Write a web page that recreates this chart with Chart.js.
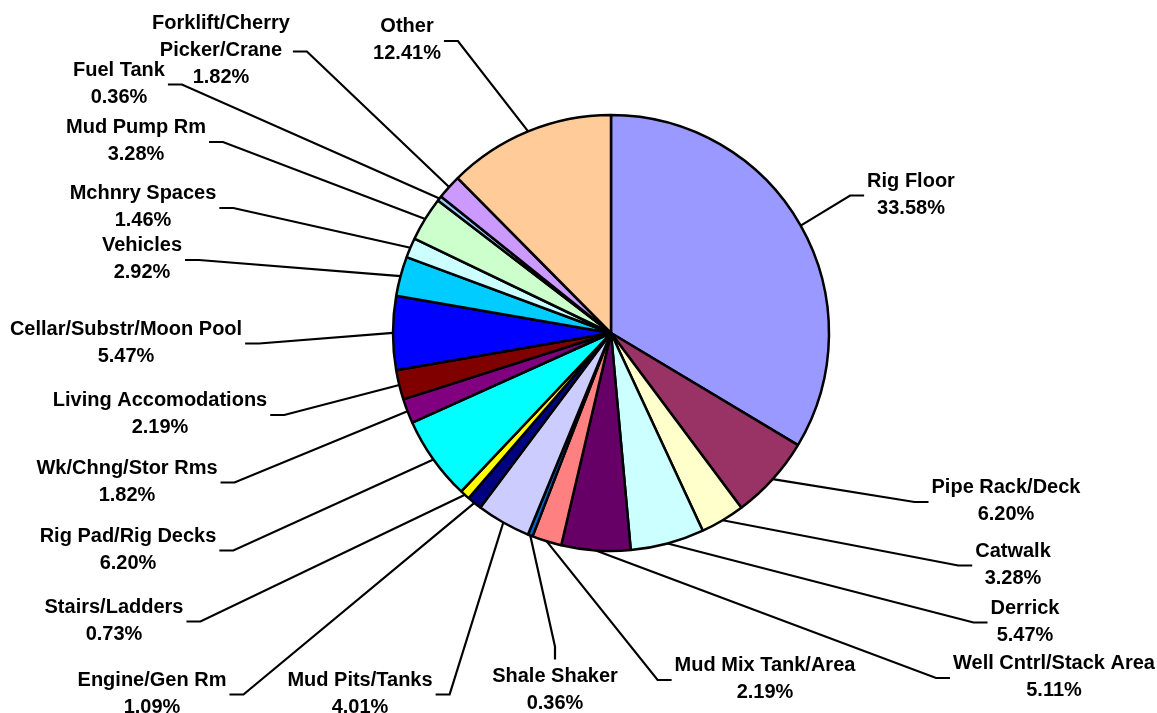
<!DOCTYPE html>
<html>
<head>
<meta charset="utf-8">
<title>Incident Location Pie</title>
<script src="https://cdn.jsdelivr.net/npm/chart.js@4/dist/chart.umd.min.js"></script>
<style>
  html, body { margin: 0; padding: 0; background: #fff; }
  #wrap { width: 1157px; height: 713px; }
</style>
</head>
<body>
<div id="wrap"><canvas id="pieChart" width="1157" height="713"></canvas></div>
<script>
/* ----------- Data ----------- */
const categories = [
  'Rig Floor', 'Pipe Rack/Deck', 'Catwalk', 'Derrick', 'Well Cntrl/Stack Area',
  'Mud Mix Tank/Area', 'Shale Shaker', 'Mud Pits/Tanks', 'Engine/Gen Rm', 'Stairs/Ladders',
  'Rig Pad/Rig Decks', 'Wk/Chng/Stor Rms', 'Living Accomodations', 'Cellar/Substr/Moon Pool', 'Vehicles',
  'Mchnry Spaces', 'Mud Pump Rm', 'Fuel Tank', 'Forklift/Cherry\nPicker/Crane', 'Other'
];
const shares = [
  33.58, 6.20, 3.28, 5.47, 5.11,
  2.19, 0.36, 4.01, 1.09, 0.73,
  6.20, 1.82, 2.19, 5.47, 2.92,
  1.46, 3.28, 0.36, 1.82, 12.41
];
const pctLabels = shares.map(v => v.toFixed(2) + '%');

/* ----------- Styles / layout ----------- */
const sliceColors = [
  '#9999FF', '#993366', '#FFFFCC', '#CCFFFF', '#660066',
  '#FF8080', '#0066CC', '#CCCCFF', '#000080', '#FFFF00',
  '#00FFFF', '#800080', '#800000', '#0000FF', '#00CCFF',
  '#CCFFFF', '#CCFFCC', '#99CCFF', '#CC99FF', '#FFCC99'
];
// label block centre (x, y) and which side the leader line joins it
const labelPos = [
  [911, 194.5, 'L'], [1006, 501, 'L'], [1013, 564.5, 'L'], [1025, 621.5, 'L'], [1054, 677, 'L'],
  [765, 679, 'L'], [555, 690, 'T'], [360, 693.5, 'R'], [152, 693.5, 'R'], [114, 620.5, 'R'],
  [128, 549.5, 'R'], [127, 481.5, 'R'], [160, 414, 'R'], [126, 342.5, 'R'], [142, 259, 'R'],
  [143, 207, 'R'], [136, 141, 'R'], [119, 83.5, 'R'], [221, 50.5, 'R'], [407, 40, 'R']
];
const LINE_H = 27;
const FONT = 'bold 20px "Liberation Sans", Arial, sans-serif';

/* ----------- Leader line labels ----------- */
const leaderLabels = {
  id: 'leaderLabels',
  afterDatasetsDraw(chart) {
    const ctx = chart.ctx;
    const arcs = chart.getDatasetMeta(0).data;
    ctx.save();
    ctx.font = FONT;
    ctx.fillStyle = '#000';
    ctx.strokeStyle = '#000';
    ctx.lineWidth = 2.2;
    ctx.textAlign = 'center';
    ctx.textBaseline = 'middle';
    arcs.forEach((arc, i) => {
      const lines = categories[i].split('\n').concat(pctLabels[i]);
      const [cx, cy, side] = labelPos[i];
      const w = Math.max(...lines.map(t => ctx.measureText(t).width));
      const top = cy - (lines.length - 1) * LINE_H / 2;
      lines.forEach((t, k) => ctx.fillText(t, cx, top + k * LINE_H));

      const mid = (arc.startAngle + arc.endAngle) / 2;
      const px = arc.x + Math.cos(mid) * arc.outerRadius;
      const py = arc.y + Math.sin(mid) * arc.outerRadius;
      let ex, ey, bx, by;
      if (side === 'L') {
        ex = cx - w / 2 - 3; ey = cy + 1; bx = ex - 14; by = ey;
      } else if (side === 'R') {
        ex = cx + w / 2 + 3; ey = cy + 1; bx = ex + 14; by = ey;
      } else {
        ex = cx; ey = top - 17; bx = cx; by = ey - 13;
      }
      ctx.beginPath();
      ctx.moveTo(px, py);
      ctx.lineTo(bx, by);
      ctx.lineTo(ex, ey);
      ctx.stroke();
    });
    ctx.restore();
  }
};

/* ----------- Chart ----------- */
new Chart(document.getElementById('pieChart').getContext('2d'), {
  type: 'pie',
  data: {
    labels: categories,
    datasets: [{
      data: shares,
      backgroundColor: sliceColors,
      borderColor: '#000',
      borderWidth: 2.5,
      radius: 218
    }]
  },
  options: {
    responsive: false,
    devicePixelRatio: 1,
    animation: false,
    layout: { padding: { left: 65, right: 0, top: 0, bottom: 47 } },
    plugins: {
      legend: { display: false },
      tooltip: { enabled: false }
    }
  },
  plugins: [leaderLabels]
});
</script>
</body>
</html>
